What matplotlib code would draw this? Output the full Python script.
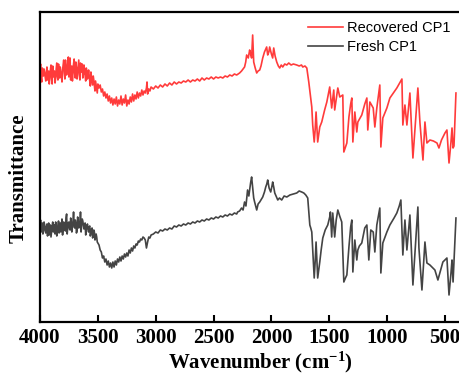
import matplotlib
matplotlib.use("Agg")
import matplotlib.pyplot as plt

plt.rcParams["mathtext.fontset"] = "custom"
plt.rcParams["mathtext.rm"] = "Liberation Serif:bold"
plt.rcParams["mathtext.bf"] = "Liberation Serif:bold"
plt.rcParams["mathtext.it"] = "Liberation Serif:bold"
plt.rcParams["mathtext.default"] = "rm"

# ---- data (arbitrary transmittance units) ----
# noisy O-H region, 4000 -> 3500 cm-1 every 5 cm-1
noisy_wn = list(range(4000, 3499, -5))
red_noisy_t = [252, 258, 244, 240, 254, 249, 246, 253, 250, 245, 241, 249, 255, 242, 247, 251,
               238, 245, 252, 257, 243, 238, 256, 250, 245, 251, 239, 244, 253, 259, 246, 242,
               258, 251, 244, 255, 250, 246, 240, 252, 257, 262, 249, 243, 262, 255, 247, 252,
               259, 265, 245, 251, 264, 242, 250, 256, 241, 249, 258, 263, 248, 244, 260, 254,
               243, 249, 256, 262, 247, 242, 259, 255, 250, 258, 244, 248, 257, 252, 246, 241,
               254, 250, 243, 247, 252, 246, 241, 236, 250, 245, 240, 237, 246, 242, 236, 231,
               241, 237, 233, 229, 238]
black_noisy_t = [96, 102, 90, 94, 99, 88, 92, 100, 97, 91, 89, 95, 98, 86, 93, 99, 87, 92, 97, 85,
                 91, 96, 100, 90, 93, 97, 88, 100, 98, 86, 92, 95, 101, 89, 94, 99, 90, 96, 103, 87,
                 94, 100, 99, 92, 91, 104, 108, 88, 95, 99, 100, 93, 92, 104, 101, 90, 96, 100, 110, 95,
                 94, 102, 99, 89, 91, 105, 103, 94, 95, 97, 110, 90, 96, 103, 101, 97, 93, 98, 99, 87,
                 92, 96, 98, 93, 90, 95, 96, 86, 89, 93, 94, 84, 88, 92, 90, 82, 84, 88, 85, 80, 79]

red_wn = [3490, 3480, 3470, 3460, 3450, 3440, 3430, 3420, 3410,
          3400, 3390, 3380, 3370, 3360, 3350, 3340, 3330, 3320, 3310, 3300, 3290, 3280, 3270, 3260,
          3250, 3240, 3230, 3220, 3210, 3200, 3190, 3180, 3170, 3160, 3150, 3140, 3130, 3120, 3110,
          3100, 3090, 3080, 3075, 3070, 3060, 3050, 3040, 3020, 3000, 2980, 2960, 2940, 2920, 2900,
          2880, 2860, 2840, 2820, 2800, 2780, 2760, 2740, 2720, 2700, 2680, 2660, 2640, 2620, 2600,
          2580, 2560, 2540, 2520, 2500, 2480, 2460, 2440, 2420, 2400, 2380, 2360, 2340, 2320, 2300,
          2275, 2258, 2245, 2232, 2222, 2214, 2200, 2188, 2180, 2171, 2162, 2153, 2140, 2127, 2115,
          2101, 2090, 2075, 2060, 2041, 2032, 2022, 2015, 2000, 1989, 1980, 1968, 1954, 1940, 1928,
          1915, 1902, 1885, 1867, 1850, 1830, 1810, 1781, 1760, 1740, 1729, 1710, 1694, 1677, 1660,
          1651, 1643, 1630, 1622, 1614, 1600, 1582, 1565, 1540, 1521, 1496, 1479, 1461, 1453, 1426,
          1409, 1383, 1374, 1360, 1348, 1330, 1315, 1305, 1296, 1279, 1262, 1253, 1219, 1193, 1175,
          1167, 1149, 1120, 1106, 1089, 1063, 1054, 1037, 1002, 994, 976, 916, 872, 864, 846,
          829, 803, 777, 734, 716, 690, 673, 656, 630, 600, 569, 552, 530, 500, 483,
          465, 448, 439, 430, 422, 405]
red_t = [234, 237, 230, 233, 226, 230, 224, 228, 221,
         226, 219, 224, 217, 223, 218, 225, 216, 222, 218, 226, 217, 223, 219, 227,
         216, 222, 218, 225, 220, 228, 221, 227, 223, 230, 224, 229, 226, 232, 227,
         231, 229, 234, 240, 228, 233, 231, 235, 233, 236, 234, 237, 235, 238, 236,
         239, 237, 240, 238, 240, 239, 241, 240, 242, 240, 242, 241, 243, 241, 244,
         242, 244, 243, 245, 243, 245, 244, 245, 244, 246, 245, 247, 246, 248, 247,
         249, 251, 253, 255, 260, 267, 264, 272, 268, 264, 287, 260, 254, 249, 251,
         252, 256, 264, 270, 275, 267, 270, 275, 268, 264, 274, 266, 260, 256, 254,
         257, 255, 258, 257, 259, 257, 258, 257, 256, 257, 255, 256, 254, 240, 224,
         215, 197, 180, 192, 210, 180, 195, 200, 212, 220, 235, 214, 232, 212, 234,
         225, 227, 170, 175, 179, 205, 218, 224, 180, 210, 190, 200, 207, 218, 224,
         192, 220, 214, 195, 214, 237, 175, 204, 214, 217, 224, 234, 243, 197, 217,
         197, 229, 164, 234, 199, 162, 200, 179, 182, 181, 179, 174, 182, 189, 192,
         159, 180, 194, 174, 176, 229]

black_wn = [3490, 3480, 3470, 3460, 3450, 3440, 3430, 3420, 3410,
            3400, 3390, 3380, 3370, 3360, 3350, 3340, 3330, 3320, 3310, 3300, 3290, 3280, 3270, 3260,
            3250, 3240, 3230, 3220, 3210, 3200, 3190, 3180, 3170, 3160, 3150, 3140, 3130, 3120, 3110,
            3100, 3090, 3080, 3070, 3060, 3050, 3040, 3020, 3000, 2980, 2960, 2940, 2920, 2900, 2880,
            2860, 2840, 2820, 2800, 2780, 2760, 2740, 2720, 2700, 2680, 2660, 2640, 2620, 2600, 2580,
            2560, 2540, 2520, 2500, 2480, 2460, 2440, 2420, 2400, 2380, 2360, 2340, 2320, 2300, 2292,
            2275, 2258, 2245, 2232, 2220, 2206, 2195, 2180, 2171, 2162, 2153, 2145, 2127, 2115, 2101,
            2075, 2060, 2049, 2040, 2032, 2020, 2006, 1995, 1989, 1980, 1971, 1960, 1945, 1930, 1911,
            1890, 1867, 1840, 1810, 1781, 1760, 1738, 1720, 1703, 1686, 1668, 1660, 1651, 1630, 1622,
            1614, 1600, 1582, 1570, 1556, 1535, 1513, 1496, 1490, 1479, 1470, 1453, 1440, 1426, 1410,
            1392, 1374, 1360, 1348, 1330, 1315, 1305, 1296, 1279, 1262, 1253, 1240, 1219, 1193, 1175,
            1158, 1141, 1120, 1106, 1089, 1063, 1054, 1037, 1002, 976, 940, 916, 895, 881, 864,
            846, 829, 803, 777, 734, 725, 699, 673, 656, 630, 587, 561, 518, 483, 465,
            448, 439, 430, 405]
black_t = [77, 72, 70, 64, 66, 60, 63, 57, 61,
           55, 59, 54, 60, 55, 61, 57, 63, 60, 65, 61, 66, 63, 68, 65,
           69, 66, 72, 69, 74, 71, 76, 74, 78, 77, 81, 80, 83, 82, 85,
           84, 82, 74, 80, 85, 84, 87, 88, 90, 89, 92, 91, 93, 92, 94,
           93, 96, 95, 97, 96, 98, 97, 99, 98, 100, 99, 101, 100, 102, 101,
           103, 102, 104, 103, 105, 104, 106, 105, 107, 106, 108, 107, 109, 108, 110,
           111, 114, 112, 120, 116, 132, 126, 139, 145, 134, 124, 120, 112, 118, 120,
           125, 130, 135, 138, 142, 134, 130, 136, 140, 135, 129, 126, 122, 124, 122,
           126, 125, 127, 128, 129, 131, 130, 129, 127, 124, 97, 94, 90, 44, 60,
           80, 44, 60, 72, 84, 92, 97, 105, 110, 85, 109, 85, 102, 112, 106,
           100, 40, 44, 47, 75, 95, 102, 50, 82, 62, 72, 76, 79, 94, 97,
           62, 92, 90, 70, 97, 114, 49, 79, 90, 97, 104, 109, 116, 122, 67,
           102, 72, 107, 37, 115, 74, 32, 80, 59, 57, 52, 42, 60, 64, 27,
           49, 62, 40, 104]

labels = ["Recovered CP1", "Fresh CP1"]
xticks = [4000, 3500, 3000, 2500, 2000, 1500, 1000, 500]

# ---- figure ----
fig = plt.figure(figsize=(4.6, 3.76), dpi=100)
ax = fig.add_axes([40 / 460, 1 - 322 / 376, 1 - 40 / 460, (322 - 12) / 376])

ax.plot(noisy_wn + red_wn, red_noisy_t + red_t, color="#ff3b3b", lw=1.2, label=labels[0])
ax.plot(noisy_wn + black_wn, black_noisy_t + black_t, color="#444444", lw=1.2, label=labels[1])

ax.set_xlim(4000, 370)
ax.set_ylim(0, 310)
ax.set_xticks(xticks)
ax.set_xticklabels([str(t) for t in xticks], fontfamily="Liberation Serif",
                   fontweight="bold", fontsize=15)
ax.set_yticks([])
ax.tick_params(axis="x", direction="in", length=5, width=1.5, pad=4)
for s in ["left", "bottom", "top"]:
    ax.spines[s].set_linewidth(1.6)
ax.spines["right"].set_visible(False)

ax.set_xlabel("Wavenumber (cm$^{-1}$)", fontfamily="Liberation Serif",
              fontweight="bold", fontsize=15)
ax.xaxis.set_label_coords(0.524, -0.09)
ax.set_ylabel("Transmittance", fontfamily="Liberation Serif", fontweight="bold",
              fontsize=15)
ax.yaxis.set_label_coords(-0.028, 0.465)

leg = ax.legend(loc="upper right", frameon=False, prop={"family": "Liberation Sans", "size": 10.5},
                handlelength=2.4, handletextpad=0.25, labelspacing=0.3,
                bbox_to_anchor=(1.0, 1.0), borderaxespad=0.25)

fig.savefig("out.png", dpi=100)
